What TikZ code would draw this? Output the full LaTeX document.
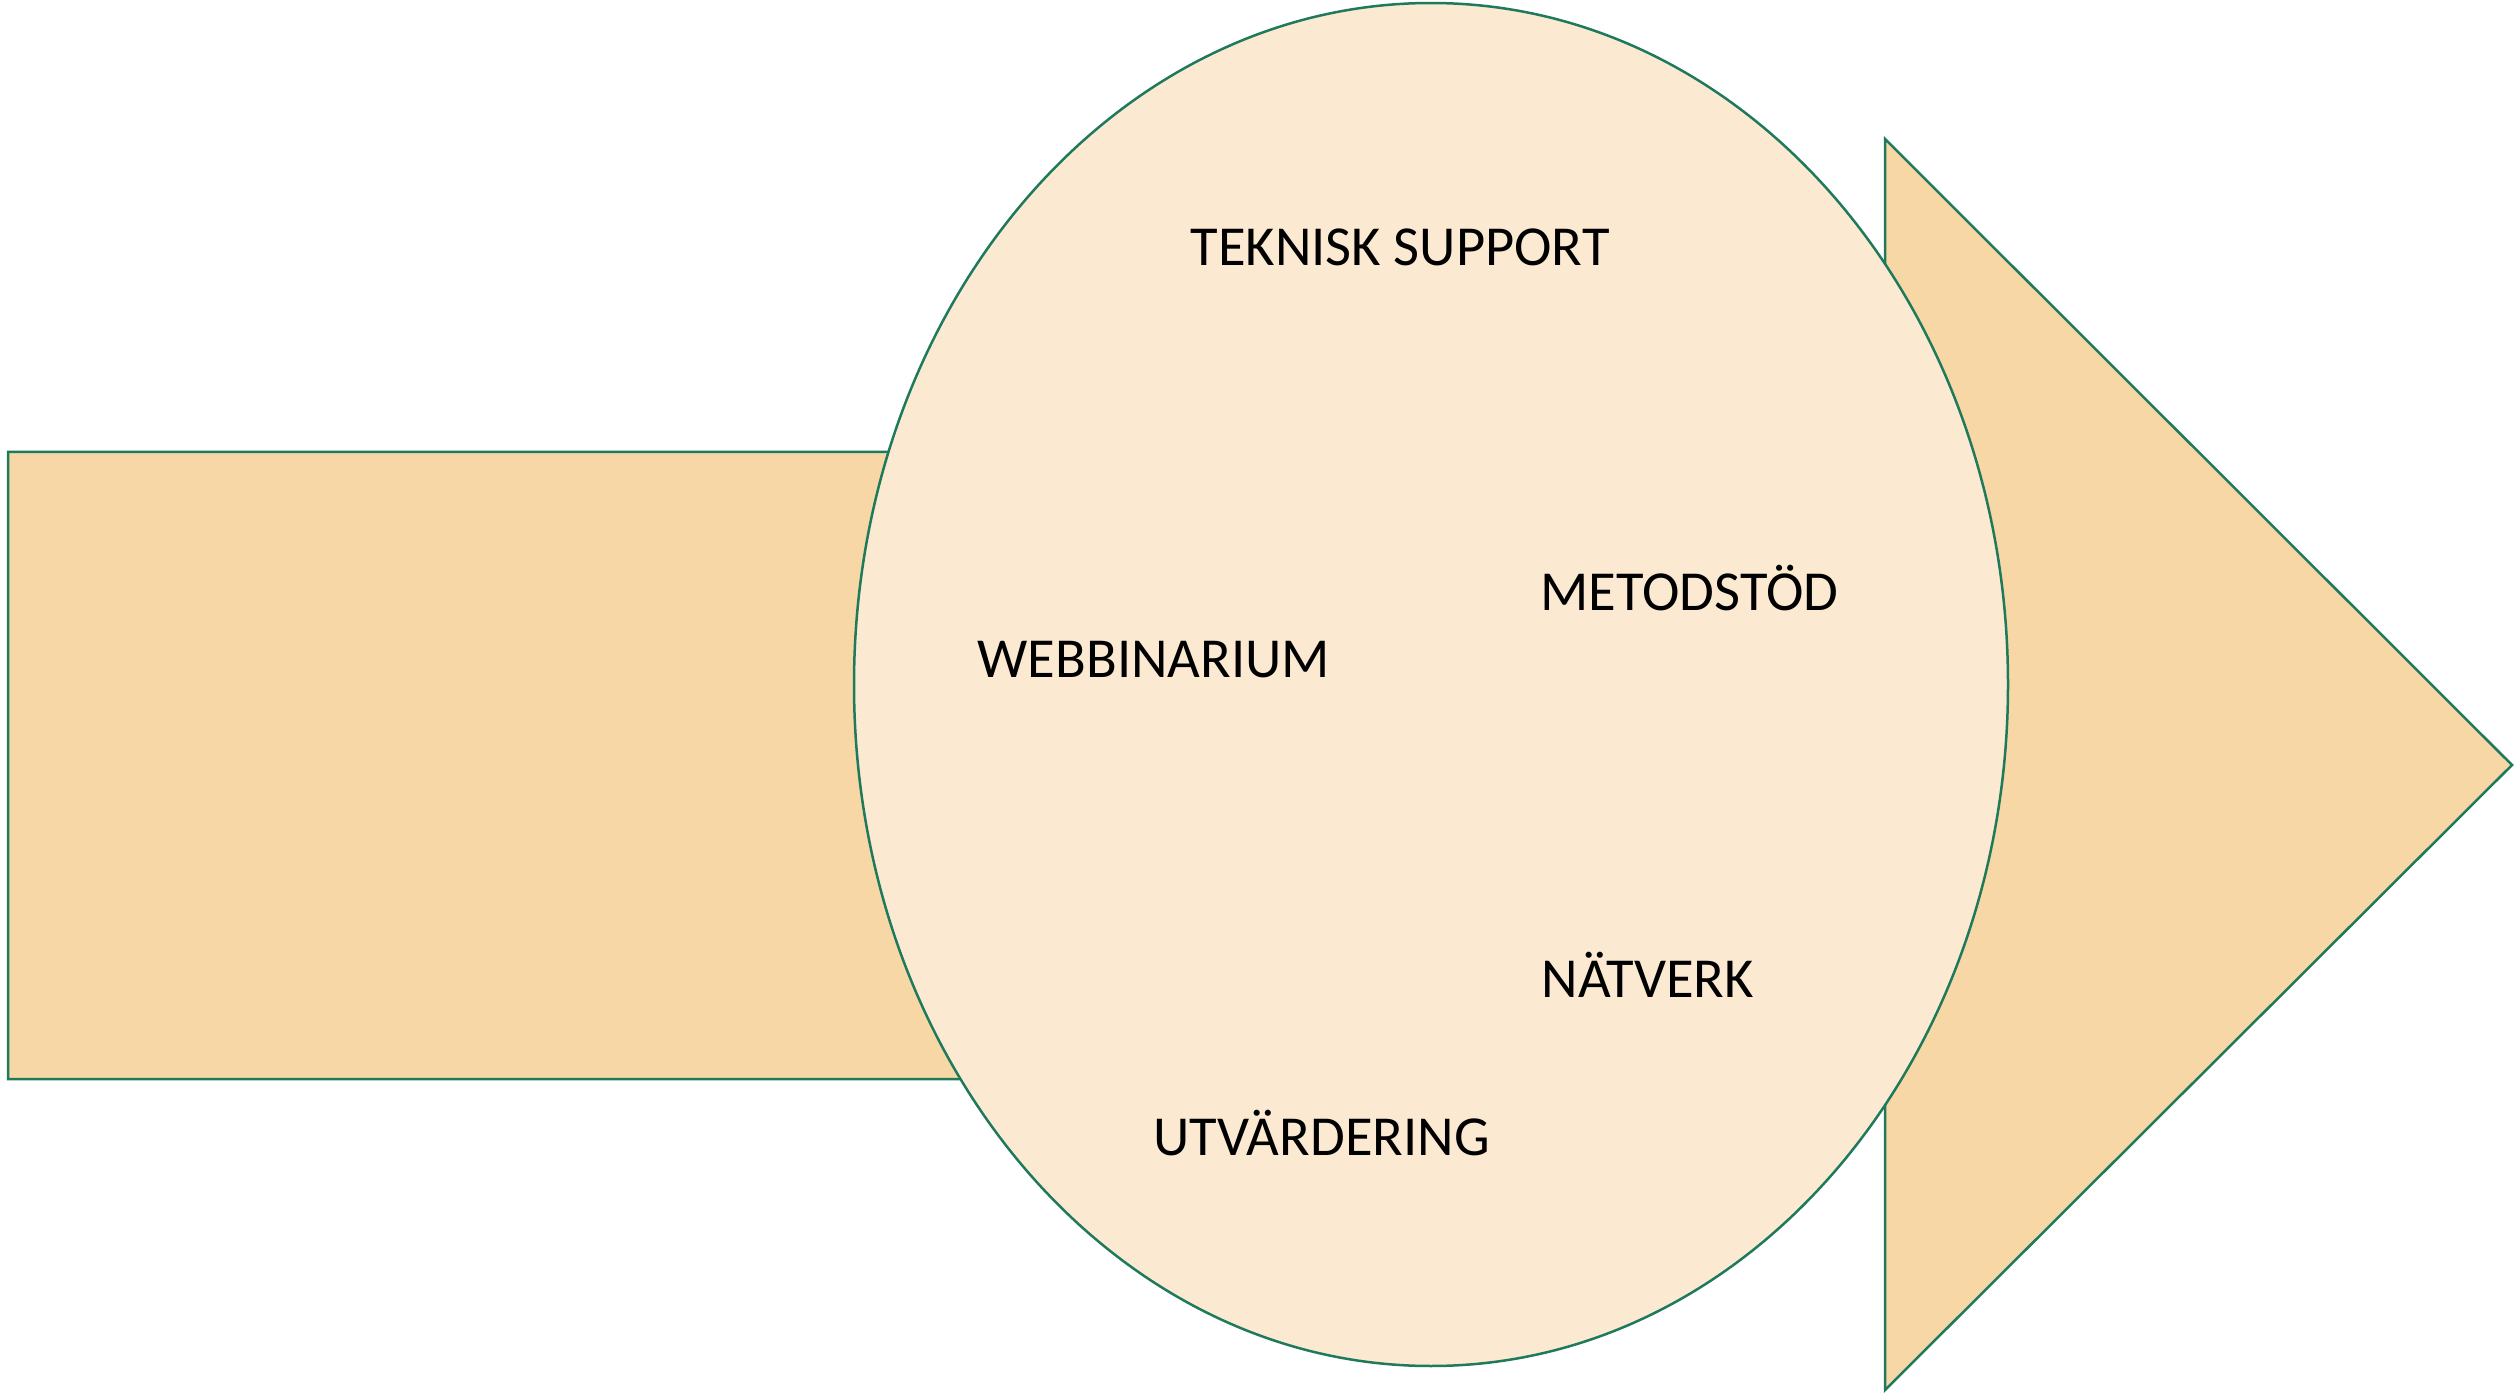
\documentclass[tikz,border=0pt]{standalone}
\usepackage{fontspec}
\setmainfont{Carlito}
\usetikzlibrary{shapes.geometric}
\begin{document}
\begin{tikzpicture}[x=0.3pt,y=-0.3pt,
  outline/.style={draw=borderg,line width=0.75pt,line join=miter},
  lbl/.style={anchor=base west,inner sep=0pt,font=\fontsize{16.95pt}{20pt}\selectfont,text=black}]
\definecolor{borderg}{HTML}{1F7A5C}
\definecolor{arrowfill}{HTML}{F8D7A6}
\definecolor{ellfill}{HTML}{FBEAD1}
\useasboundingbox (0,0) rectangle (2514,1394);
\coordinate (a1) at (8,452);
\coordinate (a2) at (1885,452);
\coordinate (a3) at (1885,139);
\coordinate (tip) at (2512,765);
\coordinate (a5) at (1885,1390);
\coordinate (a6) at (1885,1079);
\coordinate (a7) at (8,1079);
\draw[outline,fill=arrowfill] (a1) -- (a2) -- (a3) -- (tip) -- (a5) -- (a6) -- (a7) -- cycle;
\node[outline,fill=ellfill,ellipse,minimum width=346.2pt,minimum height=408.9pt,inner sep=0pt] (ell) at (1431,684.5) {};
\node[lbl] (t1) at (1190,266) {TEKNISK SUPPORT};
\node[lbl] (t2) at (1540,611) {METODSTÖD};
\node[lbl] (t3) at (977,677) {WEBBINARIUM};
\node[lbl] (t4) at (1541,997) {NÄTVERK};
\node[lbl] (t5) at (1153,1155) {UTVÄRDERING};
\end{tikzpicture}
\end{document}
